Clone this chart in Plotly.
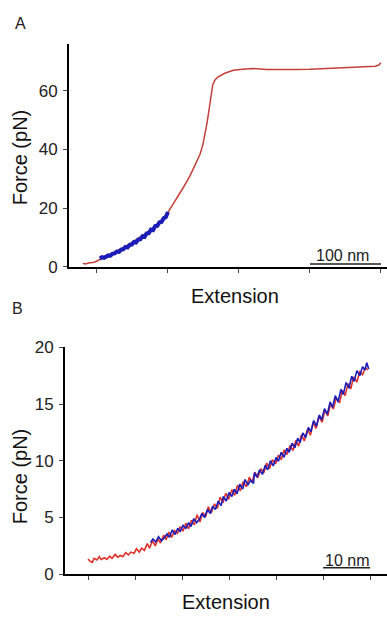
import plotly.graph_objects as go

# ---------------- Panel A data (nm, pN) ----------------
a_red_x = [-20, -16, -12, -8, -4, 0, 5, 10, 20, 30, 40, 50, 60, 70, 80, 90, 100, 110, 121, 131,
           140, 145, 149, 152, 155, 158, 161, 163, 166, 170, 180, 192, 205, 220, 239, 260, 280,
           300, 320, 342, 360, 380, 392, 397, 400]
a_red_f = [1.2, 1.0, 1.3, 1.4, 1.6, 2.0, 2.6, 3.2, 4.4, 5.6, 7.0, 8.4, 10.0, 11.7, 13.6, 15.8,
           18.6, 22.4, 26.8, 31.0, 35.5, 38.3, 41.5, 45.0, 49.0, 53.8, 59.0, 62.0, 63.6, 64.7,
           66.0, 67.0, 67.4, 67.6, 67.3, 67.2, 67.3, 67.4, 67.6, 67.9, 68.0, 68.2, 68.4, 68.8, 69.6]

a_blue_x = [4, 7, 10, 13, 16, 19, 22, 25, 28, 31, 34, 37, 40, 43, 46, 49, 52, 55, 58, 61, 64,
            67, 70, 73, 76, 79, 82, 85, 88, 91, 94, 97, 100]
a_blue_f = [2.9, 3.3, 3.1, 3.7, 3.9, 3.8, 4.5, 4.6, 5.2, 5.1, 5.9, 6.0, 6.8, 6.6, 7.5, 7.6, 8.5,
            8.3, 9.3, 9.4, 10.4, 10.2, 11.4, 11.5, 12.7, 12.5, 13.9, 14.0, 15.2, 15.3, 16.6, 17.0, 18.7]

a_xticks = [0, 100, 200, 300, 400]
a_yticks = [0, 20, 40, 60]
a_scale_bar = [300, 400]
a_scale_label = "100 nm"

# ---------------- Panel B data (nm, pN) ----------------
b_red_x = [0.0, 0.4, 0.9, 1.3, 1.9, 2.4, 2.8, 3.5, 4.0, 4.6, 5.1, 5.8, 6.3, 6.9, 7.4, 8.0, 8.6,
           9.1, 9.8, 10.3, 10.9, 11.4, 12.0, 12.6, 13.1, 13.7, 14.3, 14.9, 15.4, 16.1, 16.6, 17.2,
           17.8, 18.4, 19.0, 19.6, 20.2, 20.8, 21.4, 22.0, 22.6, 23.2, 23.8, 24.4, 25.0, 25.6,
           26.2, 26.9, 27.5, 28.1, 28.7, 29.3, 29.9, 30.6, 31.2, 31.8, 32.4, 33.0, 33.7, 34.3,
           34.9, 35.5, 36.1, 36.8, 37.4, 38.0, 38.6, 39.2, 39.9, 40.5, 41.1, 41.7, 42.3, 43.0,
           43.6, 44.2, 44.8, 45.4, 46.0, 46.7, 47.3, 47.9, 48.5, 49.1, 49.8, 50.4, 51.0, 51.6,
           52.2, 52.8, 53.5, 54.1, 54.7, 55.3, 55.9, 56.5, 57.2, 57.8, 58.4, 59.0, 59.5]
b_red_f = [1.35, 1.15, 1.05, 1.40, 1.25, 1.55, 1.30, 1.45, 1.30, 1.60, 1.40, 1.75, 1.50, 1.65,
           1.55, 1.90, 1.70, 1.95, 1.85, 2.25, 1.95, 2.30, 2.10, 2.70, 2.30, 2.95, 2.50, 3.10,
           2.75, 3.45, 3.05, 3.70, 3.25, 3.85, 3.60, 4.20, 3.80, 4.50, 4.00, 4.75, 4.35, 5.25,
           4.60, 5.45, 5.05, 5.95, 5.40, 6.20, 5.80, 6.80, 6.30, 7.15, 6.60, 7.45, 6.95, 7.85,
           7.35, 8.15, 7.70, 8.55, 8.10, 9.00, 8.50, 9.30, 8.95, 9.80, 9.30, 10.10, 9.75, 10.50,
           10.10, 10.95, 10.55, 11.35, 10.90, 11.80, 11.30, 12.30, 11.75, 12.80, 12.25, 13.40,
           12.85, 13.90, 13.40, 14.50, 13.95, 15.05, 14.55, 15.55, 15.10, 16.20, 15.75, 16.80,
           16.35, 17.40, 16.95, 17.85, 17.60, 18.20, 18.00]

b_blue_x = [13.3, 13.8, 14.4, 15.0, 15.6, 16.2, 16.8, 17.3, 17.9, 18.5, 19.1, 19.6, 20.2, 20.8,
            21.4, 21.9, 22.5, 23.1, 23.7, 24.2, 24.8, 25.4, 26.0, 26.5, 27.1, 27.7, 28.3, 28.8,
            29.4, 30.0, 30.6, 31.1, 31.7, 32.3, 32.9, 33.4, 34.0, 34.6, 35.2, 35.4, 35.9, 36.5,
            37.1, 37.7, 38.2, 38.8, 39.4, 40.0, 40.5, 41.1, 41.7, 42.3, 42.8, 43.4, 44.0, 44.6,
            45.1, 45.7, 46.3, 46.9, 47.4, 48.0, 48.6, 49.2, 49.7, 50.3, 50.9, 51.5, 52.0, 52.6,
            53.2, 53.8, 54.3, 54.9, 55.5, 56.1, 56.6, 57.2, 57.8, 58.4, 58.9, 59.3, 59.7]
b_blue_f = [2.80, 3.10, 2.85, 3.30, 2.95, 3.20, 3.55, 3.25, 3.90, 3.50, 4.05, 3.75, 4.30, 4.05,
            4.55, 4.20, 4.90, 4.55, 4.85, 5.35, 5.00, 5.70, 5.35, 6.00, 5.70, 6.45, 6.05, 6.85,
            6.45, 7.20, 6.85, 7.50, 7.10, 7.95, 7.50, 8.35, 7.85, 8.30, 8.00, 8.95, 8.55, 9.20,
            8.80, 9.60, 9.20, 10.00, 9.55, 10.30, 9.95, 10.75, 10.30, 11.10, 10.75, 11.55, 11.15,
            12.00, 11.60, 12.45, 12.05, 12.95, 12.55, 13.55, 13.05, 14.05, 13.60, 14.60, 14.10,
            15.20, 14.70, 15.75, 15.20, 16.30, 15.85, 16.90, 16.40, 17.45, 17.00, 17.95, 17.50,
            18.30, 18.00, 18.65, 18.10]

b_xticks = [0, 10, 20, 30, 40, 50, 60]
b_yticks = [0, 5, 10, 15, 20]
b_scale_bar = [50, 60]
b_scale_label = "10 nm"

# ---------------- styling ----------------
FONT = "Liberation Sans, Arial, sans-serif"
RED_A = "#c4403a"
RED_B = "#e0322a"
BLUE = "#1c1cb8"
W, H = 387, 623

fig = go.Figure()
fig.add_trace(go.Scatter(x=a_red_x, y=a_red_f, mode="lines", line=dict(color=RED_A, width=1.5),
                         xaxis="x", yaxis="y", showlegend=False))
fig.add_trace(go.Scatter(x=a_blue_x, y=a_blue_f, mode="lines", line=dict(color=BLUE, width=4),
                         xaxis="x", yaxis="y", showlegend=False))
fig.add_trace(go.Scatter(x=b_red_x, y=b_red_f, mode="lines", line=dict(color=RED_B, width=1.6),
                         xaxis="x2", yaxis="y2", showlegend=False))
fig.add_trace(go.Scatter(x=b_blue_x, y=b_blue_f, mode="lines", line=dict(color=BLUE, width=1.6),
                         xaxis="x2", yaxis="y2", showlegend=False))

axis_common = dict(showgrid=False, zeroline=False, showline=True, linecolor="black", linewidth=2,
                   ticks="outside", ticklen=4, tickwidth=1, tickcolor="#444",
                   tickfont=dict(family=FONT, size=17, color="#222"))

fig.update_layout(
    width=W, height=H, margin=dict(l=0, r=0, t=0, b=0),
    paper_bgcolor="white", plot_bgcolor="white",
    xaxis=dict(domain=[69 / W, 1], range=[-39.4, 408.5], tickvals=a_xticks, showticklabels=False,
               anchor="y", **axis_common),
    yaxis=dict(domain=[(H - 266) / H, (H - 36) / H], range=[0, 76], tickvals=a_yticks,
               anchor="x", ticklabelstandoff=2, **axis_common),
    xaxis2=dict(domain=[65 / W, 1], range=[-4.9, 63.6], tickvals=b_xticks, showticklabels=False,
                anchor="y2", **axis_common),
    yaxis2=dict(domain=[(H - 583) / H, (H - 349) / H], range=[0, 20], tickvals=b_yticks,
                anchor="x2", ticklabelstandoff=2, **axis_common),
)

# scale bars
fig.add_shape(type="line", xref="x", yref="y", x0=a_scale_bar[0], x1=a_scale_bar[1], y0=1.0, y1=1.0,
              line=dict(color="#222", width=1.5))
fig.add_shape(type="line", xref="x2", yref="y2", x0=b_scale_bar[0], x1=b_scale_bar[1], y0=0.57, y1=0.57,
              line=dict(color="#222", width=1.5))

C = dict(xanchor="center", yanchor="middle", showarrow=False)
ann = []
ann.append(dict(xref="x", yref="y", x=sum(a_scale_bar) / 2 - 4, y=4.0, text=a_scale_label,
                font=dict(family=FONT, size=16, color="#222"), **C))
ann.append(dict(xref="x2", yref="y2", x=sum(b_scale_bar) / 2, y=1.17, text=b_scale_label,
                font=dict(family=FONT, size=16, color="#222"), **C))
# panel letters
ann.append(dict(xref="paper", yref="paper", x=20 / W, y=(H - 15) / H, text="A",
                font=dict(family=FONT, size=16, color="#222"), **C))
ann.append(dict(xref="paper", yref="paper", x=17 / W, y=(H - 309) / H, text="B",
                font=dict(family=FONT, size=16, color="#222"), **C))
# axis titles
for cx, cy in [(20, 153), (20, 482)]:
    ann.append(dict(xref="paper", yref="paper", x=cx / W, y=(H - cy) / H, text="Force (pN)",
                    textangle=-90, font=dict(family=FONT, size=20, color="#111"), **C))
for cx, cy in [(235, 296), (226, 612)]:
    ann.append(dict(xref="paper", yref="paper", x=cx / W, y=(H - cy) / H, text="Extension",
                    font=dict(family=FONT, size=20, color="#111"), **C))
fig.update_layout(annotations=ann)

fig.write_html("out.html")
